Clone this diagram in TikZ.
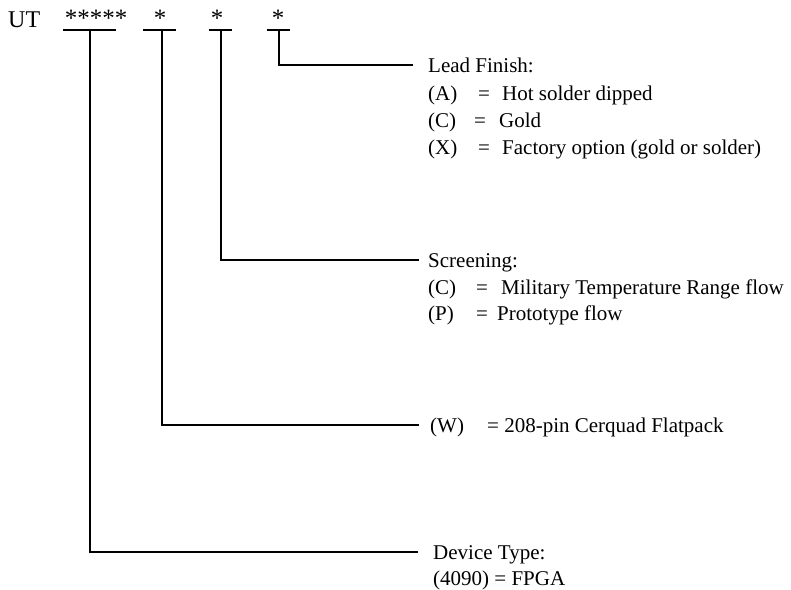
\documentclass[tikz,border=0pt]{standalone}
\usepackage{fontspec}
\setmainfont{Liberation Serif}
\begin{document}
\begin{tikzpicture}[x=1pt,y=-1pt,
  lbl/.style={font=\fontsize{21}{27}\selectfont, anchor=base west, inner sep=0pt},
  star/.style={font=\fontsize{25}{30}\selectfont, anchor=base, inner sep=0pt},
  wire/.style={line width=1.6pt, line cap=rect}]
\useasboundingbox (0,0) rectangle (791,589);
% header
\node[anchor=base west, inner sep=0pt, font=\fontsize{24}{28}\selectfont] (ut) at (8,27) {UT};
\node[star] (s1) at (96,26) {*****};
\node[star] (s2) at (160,26) {*};
\node[star] (s3) at (217,26) {*};
\node[star] (s4) at (278,26) {*};
% underline coordinates
\coordinate (u1a) at (64,30);  \coordinate (u1b) at (115,30); \coordinate (u1m) at (90,30);
\coordinate (u2a) at (144,30); \coordinate (u2b) at (175,30); \coordinate (u2m) at (162,30);
\coordinate (u3a) at (210,30); \coordinate (u3b) at (231,30); \coordinate (u3m) at (221,30);
\coordinate (u4a) at (268,30); \coordinate (u4b) at (289,30); \coordinate (u4m) at (279,30);
% line ends
\coordinate (e4) at (412,65);
\coordinate (e3) at (418,260);
\coordinate (e2) at (418,425);
\coordinate (e1) at (417,552);
% wires
\draw[wire] (u1a) -- (u1b);
\draw[wire] (u2a) -- (u2b);
\draw[wire] (u3a) -- (u3b);
\draw[wire] (u4a) -- (u4b);
\draw[wire] (u4m) |- (e4);
\draw[wire] (u3m) |- (e3);
\draw[wire] (u2m) |- (e2);
\draw[wire] (u1m) |- (e1);
% Lead finish
\node[lbl] (lf) at (428,72) {Lead Finish:};
\node[lbl] (lfa1) at (428,100) {(A)};
\node[lbl] (lfa2) at (478,100) {=};
\node[lbl] (lfa3) at (502,100) {Hot solder dipped};
\node[lbl] (lfc1) at (428,127) {(C)};
\node[lbl] (lfc2) at (474,127) {=};
\node[lbl] (lfc3) at (499,127) {Gold};
\node[lbl] (lfx1) at (428,154) {(X)};
\node[lbl] (lfx2) at (478,154) {=};
\node[lbl] (lfx3) at (502,154) {Factory option (gold or solder)};
% Screening
\node[lbl] (sc) at (428,267) {Screening:};
\node[lbl] (scc1) at (428,294) {(C)};
\node[lbl] (scc2) at (476,294) {=};
\node[lbl] (scc3) at (501,294) {Military Temperature Range flow};
\node[lbl] (scp1) at (428,320) {(P)};
\node[lbl] (scp2) at (476,320) {=};
\node[lbl] (scp3) at (497,320) {Prototype flow};
% Package
\node[lbl] (pk1) at (430,432) {(W)};
\node[lbl] (pk2) at (487,432) {= 208-pin Cerquad Flatpack};
% Device type
\node[lbl] (dt) at (433,559) {Device Type:};
\node[lbl] (dt2) at (433,585) {(4090) = FPGA};
\end{tikzpicture}
\end{document}
